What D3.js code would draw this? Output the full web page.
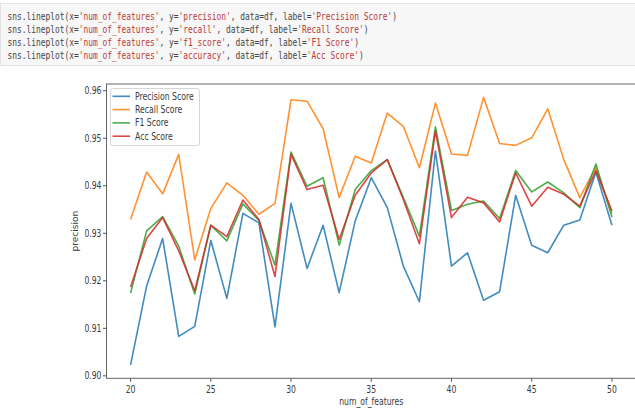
<!DOCTYPE html>
<html>
<head>
<meta charset="utf-8">
<script src="https://cdn.jsdelivr.net/npm/d3@7"></script>
<style>
  body { margin: 0; background: #fff; }
  svg { display: block; }
  text { font-family: "DejaVu Sans", sans-serif; fill: #3a3a3a; }
</style>
</head>
<body>
<svg width="635" height="409"></svg>
<script>
// number of features on the x axis
const features = [20, 21, 22, 23, 24, 25, 26, 27, 28, 29, 30, 31, 32, 33, 34, 35,
                  36, 37, 38, 39, 40, 41, 42, 43, 44, 45, 46, 47, 48, 49, 50];

const precision = [0.9023, 0.9189, 0.9289, 0.9083, 0.9104, 0.9285, 0.9163, 0.9342, 0.9322, 0.9103, 0.9363,
                   0.9226, 0.9317, 0.9175, 0.9326, 0.9417, 0.9354, 0.9231, 0.9156, 0.9473, 0.9231,
                   0.9259, 0.9159, 0.9177, 0.9380, 0.9275, 0.9259, 0.9317, 0.9328, 0.9429, 0.9317];
const recall = [0.9329, 0.9429, 0.9383, 0.9466, 0.9244, 0.9352, 0.9406, 0.9380, 0.9340, 0.9363, 0.9581,
                0.9578, 0.9520, 0.9375, 0.9462, 0.9448, 0.9553, 0.9525, 0.9438, 0.9574, 0.9467,
                0.9464, 0.9586, 0.9489, 0.9485, 0.9501, 0.9562, 0.9455, 0.9375, 0.9439, 0.9341];
const f1 = [0.9174, 0.9305, 0.9335, 0.9273, 0.9172, 0.9317, 0.9284, 0.9362, 0.9327, 0.9233, 0.9471,
            0.9399, 0.9417, 0.9275, 0.9392, 0.9432, 0.9455, 0.9375, 0.9294, 0.9524, 0.9348,
            0.9361, 0.9368, 0.9331, 0.9432, 0.9387, 0.9408, 0.9385, 0.9354, 0.9446, 0.9334];
const acc = [0.9187, 0.9289, 0.9333, 0.9263, 0.9179, 0.9317, 0.9293, 0.9370, 0.9329, 0.9209, 0.9466,
             0.9392, 0.9401, 0.9287, 0.9380, 0.9427, 0.9455, 0.9371, 0.9278, 0.9515, 0.9333,
             0.9376, 0.9364, 0.9324, 0.9427, 0.9357, 0.9397, 0.9382, 0.9357, 0.9432, 0.9347];

const seriesNames = ["Precision Score", "Recall Score", "F1 Score", "Acc Score"];
const seriesColors = ["#1f77b4", "#ff7f0e", "#2ca02c", "#d62728"];
const xTicks = [20, 25, 30, 35, 40, 45, 50];
const yTicks = [0.90, 0.91, 0.92, 0.93, 0.94, 0.95, 0.96];

// code cell lines: [text, isString]
const codeLines = [
  [["sns.lineplot(x=", 0], ["'num_of_features'", 1], [", y=", 0], ["'precision'", 1], [", data=df, label=", 0], ["'Precision Score'", 1], [")", 0]],
  [["sns.lineplot(x=", 0], ["'num_of_features'", 1], [", y=", 0], ["'recall'", 1], [", data=df, label=", 0], ["'Recall Score'", 1], [")", 0]],
  [["sns.lineplot(x=", 0], ["'num_of_features'", 1], [", y=", 0], ["'f1_score'", 1], [", data=df, label=", 0], ["'F1 Score'", 1], [")", 0]],
  [["sns.lineplot(x=", 0], ["'num_of_features'", 1], [", y=", 0], ["'accuracy'", 1], [", data=df, label=", 0], ["'Acc Score'", 1], [")", 0]]
];

let svg = d3.select("svg");

// the screenshot is squeezed sideways, so text gets squeezed too
let sx = 0.77;

// ---- code cell ----
svg.append("rect")
  .attr("x", 0.5).attr("y", 3.5)
  .attr("width", 640).attr("height", 62)
  .attr("fill", "#f7f7f7")
  .attr("stroke", "#e2e2e2");

codeLines.forEach(function (line, i) {
  let t = svg.append("text")
    .attr("transform", "translate(7.5," + (19.5 + i * 13.2) + ") scale(0.79,1)")
    .style("font-family", "'DejaVu Sans Mono', monospace")
    .style("font-size", "10px");
  line.forEach(function (seg) {
    t.append("tspan")
      .style("fill", seg[1] ? "#b83a3a" : "#444")
      .text(seg[0]);
  });
});

// ---- plot ----
let plotL = 106.5, plotR = 636, plotT = 84, plotB = 378.3;

let allVals = precision.concat(recall, f1, acc);
let ymin = d3.min(allVals), ymax = d3.max(allVals);
let pad = (ymax - ymin) * 0.05;

let x = d3.scaleLinear().domain([18.5, 51.5]).range([plotL, plotR]);
let y = d3.scaleLinear().domain([ymin - pad, ymax + pad]).range([plotB, plotT]);

let series = [precision, recall, f1, acc];

let line = d3.line()
  .x(function (d, i) { return x(features[i]); })
  .y(function (d) { return y(d); });

svg.append("g")
  .selectAll("path")
  .data(series)
  .join("path")
  .attr("d", line)
  .attr("fill", "none")
  .attr("stroke", function (d, i) { return seriesColors[i]; })
  .attr("stroke-width", 1.6)
  .attr("stroke-opacity", 0.85)
  .attr("stroke-linejoin", "round");

// frame
svg.append("rect")
  .attr("x", plotL).attr("y", plotT)
  .attr("width", plotR - plotL).attr("height", plotB - plotT)
  .attr("fill", "none")
  .attr("stroke", "#666")
  .attr("stroke-width", 1);

// x ticks
let xg = svg.append("g");
xg.selectAll("line")
  .data(xTicks)
  .join("line")
  .attr("x1", d => x(d)).attr("x2", d => x(d))
  .attr("y1", plotB).attr("y2", plotB + 3.5)
  .attr("stroke", "#555");
xg.selectAll("text")
  .data(xTicks)
  .join("text")
  .attr("transform", d => "translate(" + x(d) + "," + (plotB + 15) + ") scale(" + sx + ",1)")
  .attr("text-anchor", "middle")
  .style("font-size", "10px")
  .text(d => d);

// y ticks
let yg = svg.append("g");
yg.selectAll("line")
  .data(yTicks)
  .join("line")
  .attr("x1", plotL - 3.5).attr("x2", plotL)
  .attr("y1", d => y(d)).attr("y2", d => y(d))
  .attr("stroke", "#555");
yg.selectAll("text")
  .data(yTicks)
  .join("text")
  .attr("transform", d => "translate(" + (plotL - 5) + "," + (y(d) + 3.5) + ") scale(" + sx + ",1)")
  .attr("text-anchor", "end")
  .style("font-size", "10px")
  .text(d => d.toFixed(2));

// axis labels
svg.append("text")
  .attr("transform", "translate(" + ((plotL + plotR) / 2) + ",405) scale(" + sx + ",1)")
  .attr("text-anchor", "middle")
  .style("font-size", "10px")
  .text("num_of_features");

svg.append("text")
  .attr("transform", "translate(78," + ((plotT + plotB) / 2) + ") rotate(-90) scale(0.9,0.8)")
  .attr("text-anchor", "middle")
  .style("font-size", "10px")
  .text("precision");

// legend
let legend = svg.append("g");
legend.append("rect")
  .attr("x", 110.5).attr("y", 88.5)
  .attr("width", 89).attr("height", 57)
  .attr("rx", 2)
  .attr("fill", "#fff").attr("fill-opacity", 0.8)
  .attr("stroke", "#d5d5d5");

seriesNames.forEach(function (name, i) {
  let ly = 96.3 + i * 13.3;
  legend.append("line")
    .attr("x1", 112.5).attr("x2", 130)
    .attr("y1", ly).attr("y2", ly)
    .attr("stroke", seriesColors[i])
    .attr("stroke-opacity", 0.85)
    .attr("stroke-width", 1.6);
  legend.append("text")
    .attr("transform", "translate(135," + (ly + 3.5) + ") scale(0.74,1)")
    .style("font-size", "10.5px")
    .text(name);
});
</script>
</body>
</html>
